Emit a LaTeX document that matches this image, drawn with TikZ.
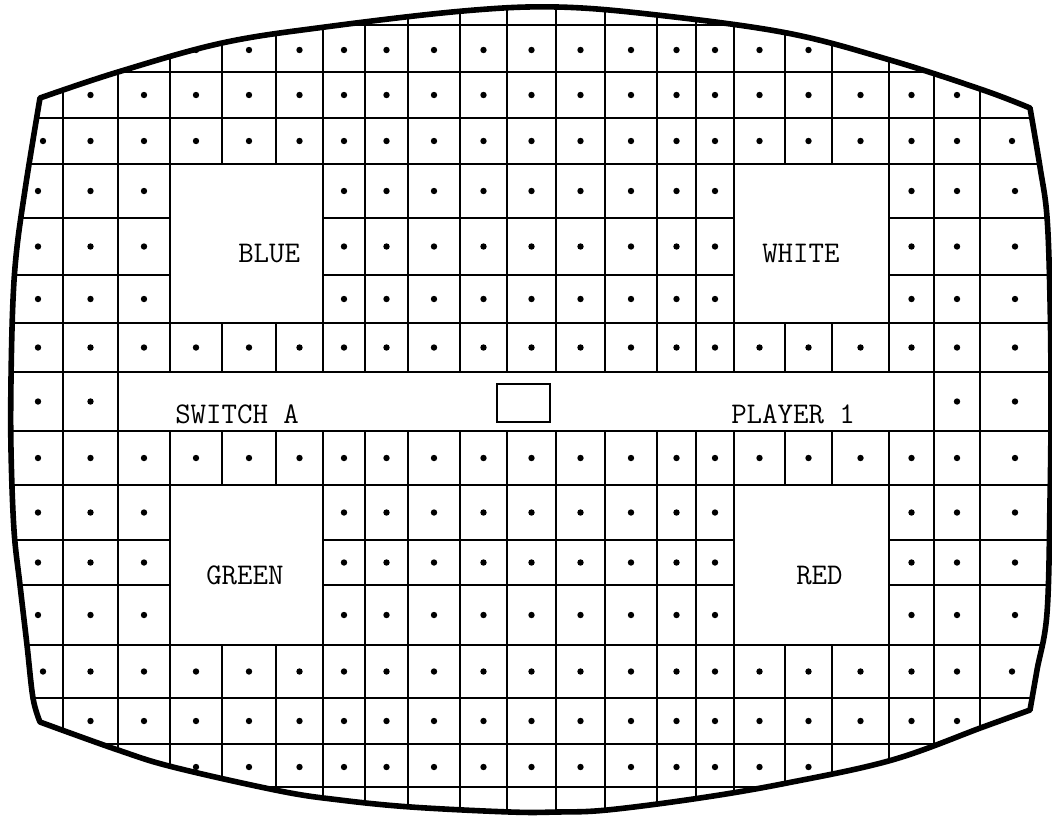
\documentclass[tikz,border=0pt]{standalone}
\begin{document}
\begin{tikzpicture}[x=0.75pt,y=-0.75pt,
  gridline/.style={line width=1.9pt},
  boxstyle/.style={fill=white,draw=black,line width=1.9pt},
  border/.style={line width=4.2pt,line join=round},
  lbl/.style={font=\ttfamily\fontsize{22.5}{27}\selectfont,inner sep=0pt,anchor=base west},
  dotc/.style={fill=black}]
\useasboundingbox (0,0) rectangle (1052,815);
\fill[white] (0,0) rectangle (1052,815);
\def\bnd{plot[smooth,tension=0.6] coordinates {(40,98) (118,72) (222,43) (325,27) (463,11) (557,7) (657,15) (787,33) (890,60) (983,90) (1030,108)}
 -- plot[smooth,tension=0.6] coordinates {(1030,108) (1040,167) (1047,217) (1050,300) (1051,400) (1050,500) (1047,613) (1037,670) (1030,710)}
 -- plot[smooth,tension=0.6] coordinates {(1030,710) (983,727) (892,760) (787,783) (700,798) (607,810) (557,812) (510,812) (411,807) (340,800) (280,791) (173,767) (118,750) (40,722)}
 -- plot[smooth,tension=0.6] coordinates {(40,722) (33,698) (27,645) (20,585) (14,530) (11,450) (11,380) (13,300) (17,247) (25,190) (33,140) (40,98)}}
\begin{scope}
\clip \bnd -- cycle;
\foreach \x in {63,118,170,222,276,323,365,408,460,507,556,605,657,696,734,785,832,889,934,980}
  \draw[gridline] (\x,0) -- (\x,815);
\foreach \y in {25,72,118,164,218,275,323,372,431,485,540,585,645,698,744,787}
  \draw[gridline] (0,\y) -- (1052,\y);
\end{scope}
% white areas
\draw[boxstyle] (170,164) rectangle (323,323);
\draw[boxstyle] (734,164) rectangle (889,323);
\draw[boxstyle] (170,485) rectangle (323,645);
\draw[boxstyle] (734,485) rectangle (889,645);
\draw[boxstyle] (118,372) rectangle (934,431);
% dots
\foreach \x in {196,249,299.5,344,386.5,434,483.5,531.5,580.5,631,676.5,715,759.5,808.5}
  {\fill[dotc] (\x,50) circle[radius=2.4pt]; \fill[dotc] (\x,767) circle[radius=2.4pt];}
\foreach \x in {90.5,144,196,249,299.5,344,386.5,434,483.5,531.5,580.5,631,676.5,715,759.5,808.5,860.5,911.5,957}
  {\fill[dotc] (\x,95) circle[radius=2.4pt]; \fill[dotc] (\x,721) circle[radius=2.4pt];}
\foreach \x in {43,90.5,144,196,249,299.5,344,386.5,434,483.5,531.5,580.5,631,676.5,715,759.5,808.5,860.5,911.5,957,1012}
  \foreach \y in {141,671.5}
    \fill[dotc] (\x,\y) circle[radius=2.4pt];
\foreach \x in {38,90.5,144,196,249,299.5,344,386.5,434,483.5,531.5,580.5,631,676.5,715,759.5,808.5,860.5,911.5,957,1015}
  \foreach \y in {347.5,458}
    \fill[dotc] (\x,\y) circle[radius=2.4pt];
\foreach \x in {38,90.5,144,344,386.5,434,483.5,531.5,580.5,631,676.5,715,911.5,957,1015}
  \foreach \y in {191,246.5,299,512.5,562.5,615}
    \fill[dotc] (\x,\y) circle[radius=2.4pt];
\foreach \x in {38,90.5,957,1015}
  \fill[dotc] (\x,401.5) circle[radius=2.4pt];
% border
\draw[border] \bnd -- cycle;
% labels
\node[lbl] (blue) at (238,262) {BLUE};
\node[lbl] (white) at (762,262) {WHITE};
\node[lbl] (green) at (206,584) {GREEN};
\node[lbl] (red) at (796,584) {RED};
\node[lbl] (switch) at (175,423) {SWITCH A};
\node[lbl] (player) at (731,423) {PLAYER 1};
\node[draw,line width=1.9pt,minimum width=53*0.75pt,minimum height=38*0.75pt,inner sep=0pt] (sq) at (523.5,403) {};
\end{tikzpicture}
\end{document}
